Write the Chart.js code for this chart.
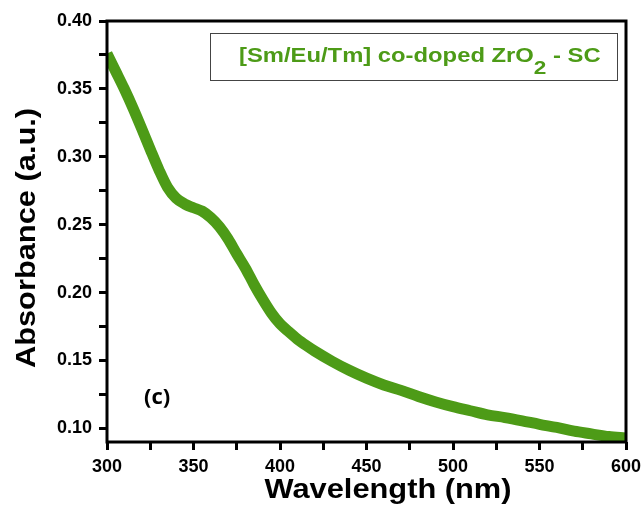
<!DOCTYPE html>
<html>
<head>
<meta charset="utf-8">
<script src="https://cdn.jsdelivr.net/npm/chart.js@4.4.1/dist/chart.umd.min.js"></script>
<style>
html,body{margin:0;padding:0;background:#fff;}
#wrap{width:642px;height:508px;}
</style>
</head>
<body>
<div id="wrap"><canvas id="c" width="642" height="508"></canvas></div>
<script>
// ---- data ----
const wavelengths = [300,305,310,315,320,325,330,335,340,345,350,355,360,365,370,375,380,385,390,395,400,405,410,415,420,430,440,450,460,470,480,490,500,510,520,530,540,550,560,570,580,590,600];
const absorbance  = [0.376,0.363,0.350,0.336,0.321,0.3055,0.2905,0.2775,0.2695,0.2652,0.2625,0.2600,0.2552,0.2485,0.2395,0.2285,0.2180,0.2060,0.1950,0.1850,0.1770,0.1712,0.1658,0.1612,0.1570,0.1495,0.1428,0.137,0.132,0.128,0.1235,0.1195,0.116,0.113,0.110,0.108,0.1056,0.103,0.1007,0.098,0.096,0.094,0.093];
const xTickValues = [300,325,350,375,400,425,450,475,500,525,550,575,600];
const yTickValues = [0.10,0.125,0.15,0.175,0.20,0.225,0.25,0.275,0.30,0.325,0.35,0.375,0.40];
const seriesLabelMain = '[Sm/Eu/Tm] co-doped ZrO';
const seriesLabelSub = '2';
const seriesLabelTail = ' - SC';
const xTitle = 'Wavelength (nm)';
const yTitle = 'Absorbance (a.u.)';
const panelLabel = '(c)';

const GREEN = '#4d9b17';
const TICK_FONT = {family:'"Liberation Sans", Arial, sans-serif', size:18, weight:'bold'};

const decor = {
  id:'decor',
  afterDatasetsDraw(chart){
    const {ctx, chartArea:a} = chart;
    ctx.save();
    // frame
    ctx.strokeStyle = '#000';
    ctx.lineWidth = 3;
    ctx.strokeRect(a.left, a.top, a.right - a.left, a.bottom - a.top);
    // legend box
    ctx.lineWidth = 1;
    ctx.strokeStyle = '#444';
    ctx.strokeRect(210.5, 33.5, 407, 47);
    // legend text
    ctx.fillStyle = GREEN;
    ctx.save();
    ctx.translate(239, 62);
    ctx.scale(1.19, 1);
    ctx.textBaseline = 'alphabetic';
    ctx.textAlign = 'left';
    ctx.font = 'bold 20px "Liberation Sans", Arial, sans-serif';
    ctx.fillText(seriesLabelMain, 0, 0);
    let w = ctx.measureText(seriesLabelMain).width;
    ctx.font = 'bold 19px "Liberation Sans", Arial, sans-serif';
    ctx.fillText(seriesLabelSub, w, 12);
    w += ctx.measureText(seriesLabelSub).width;
    ctx.font = 'bold 20px "Liberation Sans", Arial, sans-serif';
    ctx.fillText(seriesLabelTail, w, 0);
    ctx.restore();
    // panel label
    ctx.fillStyle = '#000';
    ctx.font = 'bold 22px "Open Sans", sans-serif';
    ctx.textAlign = 'left';
    ctx.fillText(panelLabel, 144, 404);
    // x title
    ctx.save();
    ctx.translate(388, 498);
    ctx.scale(1.1, 1);
    ctx.textAlign = 'center';
    ctx.font = 'bold 28px "Liberation Sans", Arial, sans-serif';
    ctx.fillText(xTitle, 0, 0);
    ctx.restore();
    // y title
    ctx.save();
    ctx.translate(35, 238);
    ctx.rotate(-Math.PI/2);
    ctx.scale(1.1, 1);
    ctx.textAlign = 'center';
    ctx.font = 'bold 28px "Liberation Sans", Arial, sans-serif';
    ctx.fillText(yTitle, 0, 0);
    ctx.restore();
    ctx.restore();
  }
};

new Chart(document.getElementById('c'), {
  type:'line',
  data:{
    datasets:[{
      label: seriesLabelMain + seriesLabelSub + seriesLabelTail,
      data: wavelengths.map((x,i)=>({x:x, y:absorbance[i]})),
      borderColor: GREEN,
      borderWidth: 11,
      pointRadius: 0,
      fill: false,
      cubicInterpolationMode: 'monotone',
      clip: 0
    }]
  },
  options:{
    responsive:false,
    animation:false,
    devicePixelRatio:1,
    layout:{padding:{top:21,right:16,left:0,bottom:0}},
    plugins:{legend:{display:false},tooltip:{enabled:false},title:{display:false}},
    scales:{
      x:{
        type:'linear', min:300, max:600,
        afterBuildTicks:s=>{ s.ticks = xTickValues.map(v=>({value:v})); },
        afterFit:s=>{ s.height = 66; s.paddingRight = 0; s.paddingLeft = 0; },
        border:{display:false},
        grid:{drawOnChartArea:false, drawTicks:true, tickLength:8, tickWidth:3, tickColor:'#000'},
        ticks:{autoSkip:false, maxRotation:0, minRotation:0, padding:6, color:'#000', font:TICK_FONT,
          callback:v=> (Math.round(v) % 50 === 0) ? String(v) : ''}
      },
      y:{
        type:'linear', min:0.09, max:0.40,
        afterBuildTicks:s=>{ s.ticks = yTickValues.map(v=>({value:v})); },
        afterFit:s=>{ s.width = 107; },
        border:{display:false},
        grid:{drawOnChartArea:false, drawTicks:true, tickLength:8, tickWidth:3, tickColor:'#000'},
        ticks:{autoSkip:false, padding:7, color:'#000', font:TICK_FONT,
          callback:v=> (Math.round(v*1000) % 50 === 0) ? v.toFixed(2) : ''}
      }
    }
  },
  plugins:[decor]
});
</script>
</body>
</html>
